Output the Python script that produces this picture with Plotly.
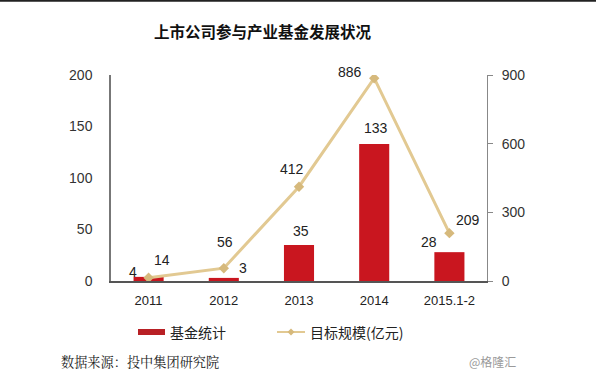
import plotly.graph_objects as go

categories = ["2011", "2012", "2013", "2014", "2015.1-2"]
fund_counts = [4, 3, 35, 133, 28]
target_scale = [14, 56, 412, 886, 209]
left_ticks = [0, 50, 100, 150, 200]
right_ticks = [0, 300, 600, 900]

title_text = "上市公司参与产业基金发展状况"
bar_name = "基金统计"
line_name = "目标规模(亿元)"
source_text = "数据来源：投中集团研究院"
watermark_text = "@格隆汇"

FONT = "Liberation Sans, Arial, Noto Sans CJK SC, sans-serif"
CJK = "Noto Sans CJK SC, sans-serif"
BAR_COLOR = "#C9161F"
LINE_COLOR = "#E2C992"
MARKER_COLOR = "#D6B97C"

# plot area in page pixels
L, R, T, B = 111, 487, 75, 281
PW, PH = R - L, B - T


def px(x):
    return (x - L) / PW


def py(y):
    return (B - y) / PH


fig = go.Figure()
fig.add_trace(go.Bar(x=categories, y=fund_counts, name=bar_name,
                     marker=dict(color=BAR_COLOR, line=dict(width=0)),
                     yaxis="y", showlegend=False))
fig.add_trace(go.Scatter(x=categories, y=target_scale, name=line_name,
                         mode="lines+markers",
                         line=dict(color=LINE_COLOR, width=3),
                         marker=dict(symbol="diamond", size=8, color=MARKER_COLOR),
                         yaxis="y2", showlegend=False))

# data labels (offsets per point are styling only)
bar_shifts = [(-16, 5), (19, 10), (2, 14), (2, 16), (-20, 10)]
line_shifts = [(13, 18), (1, 26), (-7, 18), (-24, 6), (19, 13)]
ann = []
for i, (v, (dx, dy)) in enumerate(zip(fund_counts, bar_shifts)):
    ann.append(dict(x=i, y=v, xref="x", yref="y", text=str(v), showarrow=False,
                    xshift=dx, yshift=dy, font=dict(family=FONT, size=14, color="#222")))
for i, (v, (dx, dy)) in enumerate(zip(target_scale, line_shifts)):
    ann.append(dict(x=i, y=v, xref="x", yref="y2", text=str(v), showarrow=False,
                    xshift=dx, yshift=dy, font=dict(family=FONT, size=14, color="#222")))

ann.append(dict(text="<b>" + title_text + "</b>", x=px(263), y=py(31),
                xref="paper", yref="paper", showarrow=False, xanchor="center", yanchor="middle",
                font=dict(family=CJK, size=15.5, color="#111")))
ann.append(dict(text=bar_name, x=px(168), y=py(332),
                xref="paper", yref="paper", showarrow=False, xanchor="left", yanchor="middle",
                font=dict(family=CJK, size=14, color="#222")))
ann.append(dict(text=line_name, x=px(308), y=py(332),
                xref="paper", yref="paper", showarrow=False, xanchor="left", yanchor="middle",
                font=dict(family=CJK, size=14, color="#222")))
ann.append(dict(text=source_text, x=px(59), y=py(361),
                xref="paper", yref="paper", showarrow=False, xanchor="left", yanchor="middle",
                font=dict(family="Noto Serif CJK SC, Noto Sans CJK SC, serif", size=13.2, color="#222")))
ann.append(dict(text=watermark_text, x=px(518), y=py(361),
                xref="paper", yref="paper", showarrow=False, xanchor="right", yanchor="middle",
                font=dict(family=CJK, size=12, color="#9a9a9a")))

dx3, dy3 = 3.5 / PW, 3.5 / PH
cx, cy = px(291), py(332)
diamond = f"M {cx - dx3} {cy} L {cx} {cy + dy3} L {cx + dx3} {cy} L {cx} {cy - dy3} Z"

shapes = [
    dict(type="line", xref="paper", yref="paper", x0=px(0), x1=px(596),
         y0=py(0.8), y1=py(0.8), line=dict(color="#222", width=2)),
    dict(type="rect", xref="paper", yref="paper", x0=px(138), x1=px(165),
         y0=py(335), y1=py(329), fillcolor="#B82025", line=dict(width=0)),
    dict(type="line", xref="paper", yref="paper", x0=px(277), x1=px(305),
         y0=py(332), y1=py(332), line=dict(color=LINE_COLOR, width=2)),
    dict(type="path", xref="paper", yref="paper", path=diamond,
         fillcolor=MARKER_COLOR, line=dict(width=0)),
]

fig.update_layout(
    width=596, height=387,
    margin=dict(l=L, r=596 - R, t=T, b=387 - B),
    paper_bgcolor="white", plot_bgcolor="white",
    bargap=0.6,
    showlegend=False,
    font=dict(family=FONT, size=14, color="#333"),
    xaxis=dict(type="category", range=[-0.5, len(categories) - 0.5],
               showgrid=False, showline=True, linecolor="#555", linewidth=1.5,
               ticks="", tickfont=dict(size=13, color="#222"), ticklabelstandoff=7,
               automargin=False),
    yaxis=dict(range=[0, 200], tickvals=left_ticks, showgrid=False, zeroline=False,
               showline=True, linecolor="#777", linewidth=1.5, ticks="",
               tickfont=dict(size=14, color="#333"), ticklabelstandoff=14, automargin=False),
    yaxis2=dict(range=[0, 900], tickvals=right_ticks, overlaying="y", side="right",
                showgrid=False, zeroline=False, showline=True, linecolor="#888", linewidth=1,
                ticks="outside", ticklen=5, tickcolor="#888",
                tickfont=dict(size=14, color="#333"), ticklabelstandoff=6, automargin=False),
    annotations=ann,
    shapes=shapes,
)

fig.write_html("out.html", config={"displayModeBar": False},
               post_script="document.body.style.margin='0';document.body.style.overflow='hidden';")
